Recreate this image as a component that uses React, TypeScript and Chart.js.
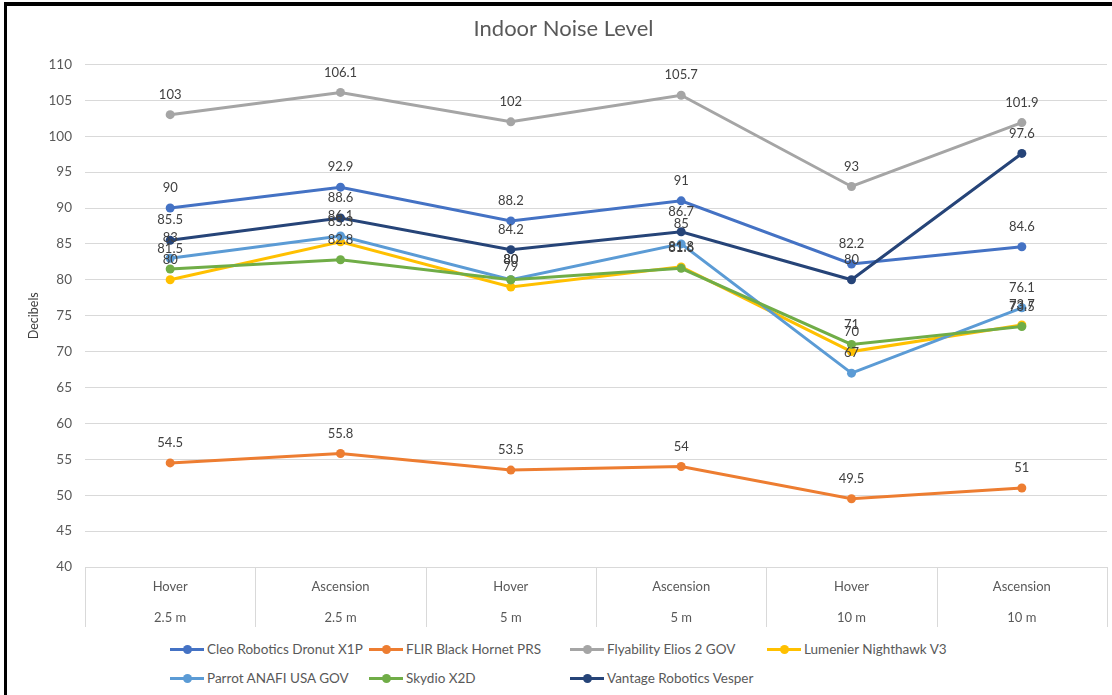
import React, { useEffect, useRef } from "react";
import { Chart, registerables } from "chart.js";

Chart.register(...registerables);

const categories: string[][] = [
  ["Hover", "2.5 m"],
  ["Ascension", "2.5 m"],
  ["Hover", "5 m"],
  ["Ascension", "5 m"],
  ["Hover", "10 m"],
  ["Ascension", "10 m"],
];

const seriesNames = [
  "Cleo Robotics Dronut X1P",
  "FLIR Black Hornet PRS",
  "Flyability Elios 2 GOV",
  "Lumenier Nighthawk V3",
  "Parrot ANAFI USA GOV",
  "Skydio X2D",
  "Vantage Robotics Vesper",
];

const cleoValues = [90, 92.9, 88.2, 91, 82.2, 84.6];
const flirValues = [54.5, 55.8, 53.5, 54, 49.5, 51];
const flyabilityValues = [103, 106.1, 102, 105.7, 93, 101.9];
const lumenierValues = [80, 85.3, 79, 81.8, 70, 73.7];
const parrotValues = [83, 86.1, 80, 85, 67, 76.1];
const skydioValues = [81.5, 82.8, 80, 81.6, 71, 73.5];
const vantageValues = [85.5, 88.6, 84.2, 86.7, 80, 97.6];

const seriesValues = [
  cleoValues,
  flirValues,
  flyabilityValues,
  lumenierValues,
  parrotValues,
  skydioValues,
  vantageValues,
];

const seriesColors = [
  "#4472C4",
  "#ED7D31",
  "#A5A5A5",
  "#FFC000",
  "#5B9BD5",
  "#70AD47",
  "#264478",
];

const yMin = 40;
const yMax = 110;
const yStep = 5;

const FONT = "Lato, 'Open Sans', sans-serif";

const dataLabelPlugin = {
  id: "dataLabels",
  afterDatasetsDraw(chart: any) {
    const ctx = chart.ctx;
    ctx.save();
    ctx.font = `13px ${FONT}`;
    ctx.fillStyle = "#404040";
    ctx.textAlign = "center";
    ctx.textBaseline = "middle";
    chart.data.datasets.forEach((ds: any, i: number) => {
      const meta = chart.getDatasetMeta(i);
      meta.data.forEach((pt: any, j: number) => {
        ctx.fillText(String(ds.data[j]), pt.x, pt.y - 20);
      });
    });
    ctx.restore();
  },
};

const separatorPlugin = {
  id: "categorySeparators",
  afterDraw(chart: any) {
    const x = chart.scales.x;
    const ctx = chart.ctx;
    const n = categories.length;
    const half = (x.getPixelForValue(1) - x.getPixelForValue(0)) / 2;
    ctx.save();
    ctx.strokeStyle = "#d9d9d9";
    ctx.lineWidth = 1;
    for (let i = 0; i <= n; i++) {
      const px = Math.round(x.getPixelForValue(i) - half) + 0.5;
      ctx.beginPath();
      ctx.moveTo(px, chart.chartArea.bottom);
      ctx.lineTo(px, chart.chartArea.bottom + 60);
      ctx.stroke();
    }
    ctx.restore();
  },
};

function Legend() {
  const cols = [170, 369, 570, 767];
  const rows = [649, 678];
  return (
    <>
      {seriesNames.map((name, i) => {
        const left = cols[i % 4];
        const top = rows[Math.floor(i / 4)];
        return (
          <div
            key={name}
            style={{
              position: "absolute",
              left,
              top: top - 9,
              height: 18,
              display: "flex",
              alignItems: "center",
              fontFamily: FONT,
              fontSize: 13.5,
              color: "#595959",
              whiteSpace: "nowrap",
            }}
          >
            <span
              style={{
                position: "relative",
                width: 34,
                height: 18,
                marginRight: 3,
                display: "inline-block",
              }}
            >
              <span
                style={{
                  position: "absolute",
                  left: 0,
                  top: 7.5,
                  width: 34,
                  height: 3,
                  background: seriesColors[i],
                }}
              />
              <span
                style={{
                  position: "absolute",
                  left: 12.5,
                  top: 4.5,
                  width: 9,
                  height: 9,
                  borderRadius: "50%",
                  background: seriesColors[i],
                }}
              />
            </span>
            {name}
          </div>
        );
      })}
    </>
  );
}

export default function App() {
  const canvasRef = useRef<HTMLCanvasElement | null>(null);

  useEffect(() => {
    if (!canvasRef.current) return;
    const chart = new Chart(canvasRef.current, {
      type: "line",
      data: {
        labels: categories,
        datasets: seriesNames.map((name, i) => ({
          label: name,
          data: seriesValues[i],
          borderColor: seriesColors[i],
          backgroundColor: seriesColors[i],
          pointBackgroundColor: seriesColors[i],
          pointBorderWidth: 0,
          pointRadius: 4.5,
          borderWidth: 3,
          tension: 0,
          fill: false,
          order: seriesNames.length - i,
        })),
      },
      options: {
        animation: false,
        responsive: false,
        maintainAspectRatio: false,
        layout: { padding: { left: 20, right: 5, top: 0, bottom: 0 } },
        plugins: {
          legend: { display: false },
          tooltip: { enabled: false },
          title: {
            display: true,
            text: "Indoor Noise Level",
            color: "#595959",
            font: { family: FONT, size: 22, weight: "normal" },
            padding: { top: 16, bottom: 22 },
          },
        },
        scales: {
          x: {
            type: "category",
            offset: true,
            grid: { display: false, drawTicks: false },
            border: { display: false },
            ticks: {
              color: "#595959",
              font: { family: FONT, size: 13, lineHeight: 2.4 },
              padding: 4,
              maxRotation: 0,
              autoSkip: false,
            },
            afterFit: (s: any) => {
              s.height = 73;
            },
          },
          y: {
            min: yMin,
            max: yMax,
            grid: { color: "#d9d9d9", drawTicks: false, lineWidth: 1 },
            border: { display: false },
            ticks: {
              stepSize: yStep,
              color: "#595959",
              font: { family: FONT, size: 13.5 },
              padding: 13,
            },
            title: {
              display: true,
              text: "Decibels",
              color: "#404040",
              font: { family: FONT, size: 12.5 },
              padding: { top: 6, bottom: 0 },
            },
            afterFit: (s: any) => {
              s.width = 65;
            },
          },
        },
      },
      plugins: [dataLabelPlugin, separatorPlugin],
    });
    return () => chart.destroy();
  }, []);

  return (
    <div
      style={{
        position: "fixed",
        left: 0,
        top: 0,
        width: 1112,
        height: 695,
        background: "#fff",
        overflow: "hidden",
      }}
    >
      <canvas
        ref={canvasRef}
        width={1112}
        height={640}
        style={{ position: "absolute", left: 0, top: 0, width: 1112, height: 640 }}
      />
      <Legend />
      <div
        style={{
          position: "absolute",
          left: 4,
          top: 2,
          width: 1120,
          height: 700,
          borderTop: "4px solid #000",
          borderLeft: "3px solid #000",
          boxSizing: "border-box",
          pointerEvents: "none",
        }}
      />
    </div>
  );
}
